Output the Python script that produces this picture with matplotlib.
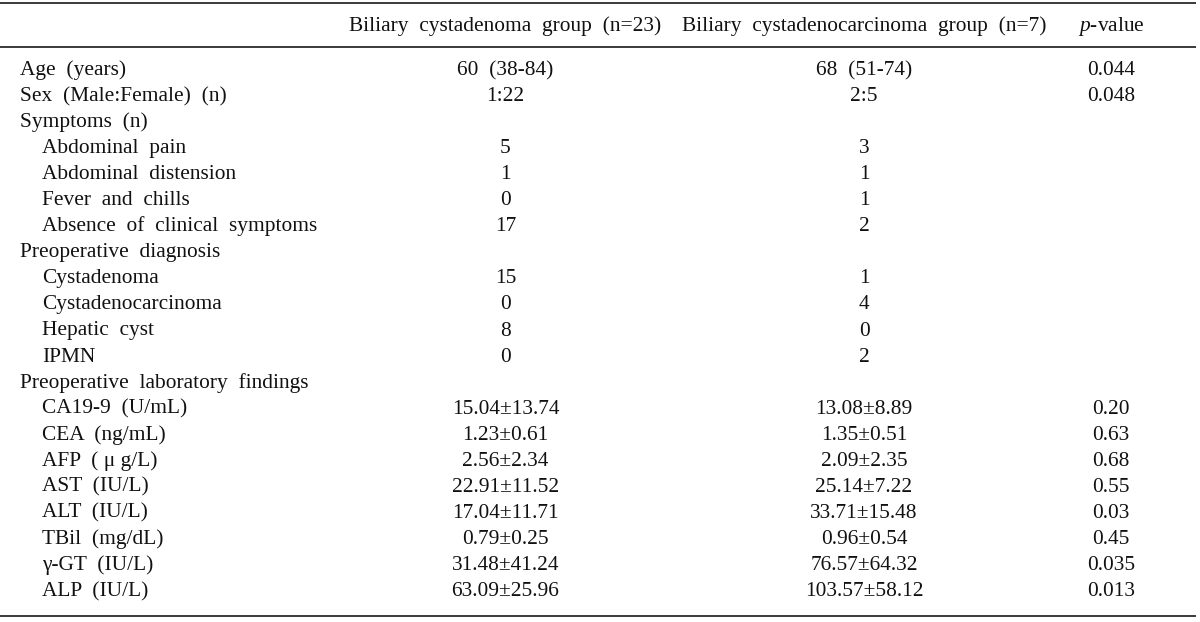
import matplotlib
matplotlib.use("Agg")
import matplotlib.pyplot as plt

plt.rcParams["mathtext.fontset"] = "custom"
plt.rcParams["mathtext.it"] = "Liberation Serif:italic"
plt.rcParams["mathtext.rm"] = "Liberation Serif"

# ---- data ----
header_group1 = "Biliary cystadenoma group (n=23)"
header_group2 = "Biliary cystadenocarcinoma group (n=7)"

row_labels = [
    "Age (years)", "Sex (Male:Female) (n)", "Symptoms (n)",
    "Abdominal pain", "Abdominal distension", "Fever and chills",
    "Absence of clinical symptoms", "Preoperative diagnosis",
    "Cystadenoma", "Cystadenocarcinoma", "Hepatic cyst", "IPMN",
    "Preoperative laboratory findings",
    "CA19-9 (U/mL)", "CEA (ng/mL)", "AFP (\u00a0\u03bc\u00a0g/L)", "AST (IU/L)",
    "ALT (IU/L)", "TBil (mg/dL)", "\u03b3-GT (IU/L)", "ALP (IU/L)",
]
row_indent = [0, 0, 0, 1, 1, 1, 1, 0, 1, 1, 1, 1, 0, 1, 1, 1, 1, 1, 1, 1, 1]
group1_values = [
    "60 (38-84)", "1:22", "", "5", "1", "0", "17", "", "15", "0", "8", "0", "",
    "15.04\u00b113.74", "1.23\u00b10.61", "2.56\u00b12.34", "22.91\u00b111.52",
    "17.04\u00b111.71", "0.79\u00b10.25", "31.48\u00b141.24", "63.09\u00b125.96",
]
group2_values = [
    "68 (51-74)", "2:5", "", "3", "1", "1", "2", "", "1", "4", "0", "2", "",
    "13.08\u00b18.89", "1.35\u00b10.51", "2.09\u00b12.35", "25.14\u00b17.22",
    "33.71\u00b115.48", "0.96\u00b10.54", "76.57\u00b164.32", "103.57\u00b158.12",
]
p_values = [
    "0.044", "0.048", "", "", "", "", "", "", "", "", "", "", "",
    "0.20", "0.63", "0.68", "0.55", "0.03", "0.45", "0.035", "0.013",
]


def wide(s):
    # the source typesets words with generous spacing
    return s.replace(" ", "  ")


# ---- layout ----
W, H = 1200, 622
fig = plt.figure(figsize=(W / 100, H / 100), dpi=100)
ax = fig.add_axes([0, 0, 1, 1])
ax.set_xlim(0, W)
ax.set_ylim(H, 0)
ax.axis("off")

FONT = "Liberation Serif"
FS = 15.4
col_label_x = 20
indent_dx = 22
col1_x = 505.5
col2_x = 864
colp_x = 1111
header_base = 31
row0_base = 75
row_dy = 26.05
line_color = "#2b2b2b"

for y in (2.5, 47, 615.5):
    ax.plot([0, 1196], [y, y], color=line_color, lw=1.3, solid_capstyle="butt")

kw = dict(va="baseline", fontsize=FS, family=FONT, color="#111111")
ax.text(col1_x, header_base, wide(header_group1), ha="center", **kw)
ax.text(col2_x, header_base, wide(header_group2), ha="center", **kw)
ax.text(colp_x, header_base, r"$\it{p}$-value", ha="center", **kw)

for i, label in enumerate(row_labels):
    y = row0_base + i * row_dy
    ax.text(col_label_x + indent_dx * row_indent[i], y, wide(label), ha="left", **kw)
    ax.text(col1_x, y, wide(group1_values[i]), ha="center", **kw)
    ax.text(col2_x, y, wide(group2_values[i]), ha="center", **kw)
    ax.text(colp_x, y, p_values[i], ha="center", **kw)

fig.savefig("out.png", dpi=100, facecolor="white")
